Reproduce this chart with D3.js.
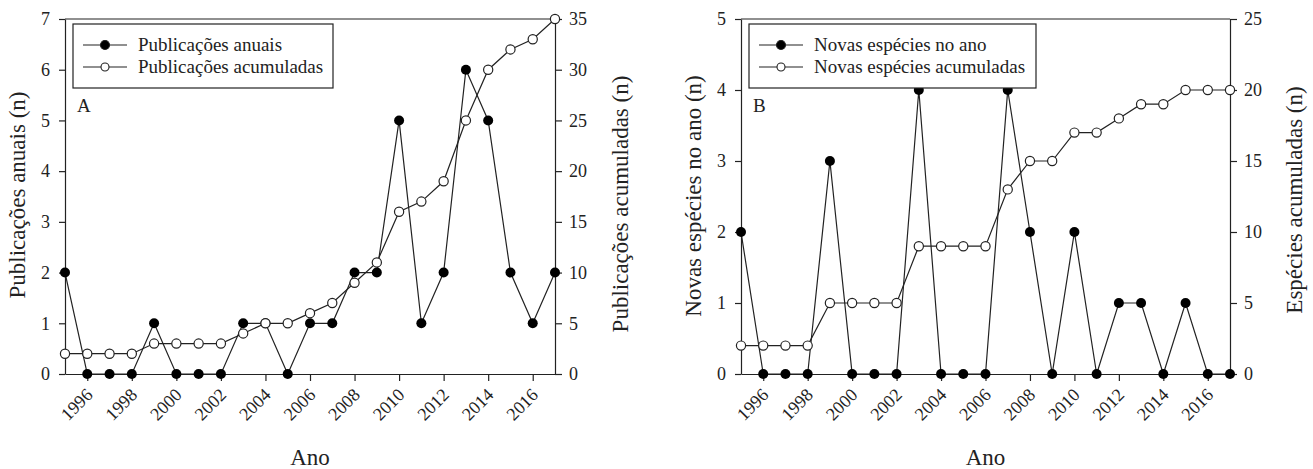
<!DOCTYPE html>
<html>
<head>
<meta charset="utf-8">
<script src="https://cdn.jsdelivr.net/npm/d3@7"></script>
<style>
  body { margin: 0; background: #fff; }
  svg, svg text { font-family: "Liberation Serif", "DejaVu Serif", serif !important; }
  .axis path, .axis line { stroke: #222; stroke-width: 1.2; }
  .axis text { font-size: 18px; fill: #222; }
</style>
</head>
<body>
<svg width="1313" height="469"></svg>
<script>
// data
let years = d3.range(1995, 2018);
let xTicks = d3.range(1996, 2018, 2);

let pubAnuais     = [2,0,0,0,1,0,0,0,1,1,0,1,1,2,2,5,1,2,6,5,2,1,2];
let pubAcumuladas = [2,2,2,2,3,3,3,3,4,5,5,6,7,9,11,16,17,19,25,30,32,33,35];

let espAno        = [2,0,0,0,3,0,0,0,4,0,0,0,4,2,0,2,0,1,1,0,1,0,0];
let espAcumuladas = [2,2,2,2,5,5,5,5,9,9,9,9,13,15,15,17,17,18,19,19,20,20,20];

let svg = d3.select("svg");

let panels = [
  { x0: 65, x1: 555, letter: "A",
    left: pubAnuais, right: pubAcumuladas, leftMax: 7, rightMax: 35,
    leftTitle: "Publicações anuais (n)", rightTitle: "Publicações acumuladas (n)",
    legend: ["Publicações anuais", "Publicações acumuladas"], legendW: 260,
    leftTitleX: 17, leftTitleY: 195, rightTitleX: 620, rightTitleY: 204 },
  { x0: 741, x1: 1230, letter: "B",
    left: espAno, right: espAcumuladas, leftMax: 5, rightMax: 25,
    leftTitle: "Novas espécies no ano (n)", rightTitle: "Espécies acumuladas (n)",
    legend: ["Novas espécies no ano", "Novas espécies acumuladas"], legendW: 287,
    leftTitleX: 693, leftTitleY: 196, rightTitleX: 1294, rightTitleY: 200 }
];

let plotTop = 19, plotBottom = 374;

panels.forEach(function(p) {
  let x = d3.scaleLinear().domain([1995, 2017]).range([p.x0, p.x1]);
  let yL = d3.scaleLinear().domain([0, p.leftMax]).range([plotBottom, plotTop]);
  let yR = d3.scaleLinear().domain([0, p.rightMax]).range([plotBottom, plotTop]);

  let g = svg.append("g");

  // top frame line
  g.append("line")
    .attr("x1", p.x0).attr("x2", p.x1)
    .attr("y1", plotTop).attr("y2", plotTop)
    .attr("stroke", "#222").attr("stroke-width", 1.2);

  // axes
  g.append("g").attr("class", "axis")
    .attr("transform", "translate(" + p.x0 + ",0)")
    .call(d3.axisLeft(yL).ticks(p.leftMax).tickSize(6).tickPadding(9).tickSizeOuter(0));

  g.append("g").attr("class", "axis")
    .attr("transform", "translate(" + p.x1 + ",0)")
    .call(d3.axisRight(yR).tickValues(d3.range(0, p.rightMax + 1, 5)).tickSize(7).tickPadding(7).tickSizeOuter(0));

  let xa = g.append("g").attr("class", "axis")
    .attr("transform", "translate(0," + plotBottom + ")")
    .call(d3.axisBottom(x).tickValues(xTicks).tickFormat(d3.format("d")).tickSize(7).tickSizeOuter(0));
  xa.selectAll("text")
    .attr("text-anchor", "end")
    .attr("dy", null)
    .attr("y", 0)
    .attr("transform", "translate(6,22) rotate(-45)");

  // lines
  let pts = function(arr, sc) { return years.map(function(yr, i) { return [x(yr), sc(arr[i])]; }); };
  let line = d3.line();

  g.append("path").datum(pts(p.left, yL))
    .attr("fill", "none").attr("stroke", "#222").attr("stroke-width", 1.2)
    .attr("d", line);
  g.append("path").datum(pts(p.right, yR))
    .attr("fill", "none").attr("stroke", "#222").attr("stroke-width", 1.2)
    .attr("d", line);

  g.selectAll(".fill").data(pts(p.left, yL)).enter().append("circle")
    .attr("cx", function(d) { return d[0]; })
    .attr("cy", function(d) { return d[1]; })
    .attr("r", 5).attr("fill", "#000");

  g.selectAll(".open").data(pts(p.right, yR)).enter().append("circle")
    .attr("cx", function(d) { return d[0]; })
    .attr("cy", function(d) { return d[1]; })
    .attr("r", 4.6).attr("fill", "#fff").attr("stroke", "#222").attr("stroke-width", 1.2);

  // legend
  let lx = p.x0 + 8, ly = 24;
  let lg = g.append("g");
  lg.append("rect")
    .attr("x", lx).attr("y", ly).attr("width", p.legendW).attr("height", 64)
    .attr("fill", "#fff").attr("stroke", "#222").attr("stroke-width", 1.2);
  p.legend.forEach(function(t, i) {
    let yy = ly + 21 + i * 22;
    lg.append("line").attr("x1", lx + 10).attr("x2", lx + 54).attr("y1", yy).attr("y2", yy)
      .attr("stroke", "#222").attr("stroke-width", 1.2);
    lg.append("circle").attr("cx", lx + 32).attr("cy", yy).attr("r", i == 0 ? 4.5 : 4)
      .attr("fill", i == 0 ? "#000" : "#fff").attr("stroke", "#222").attr("stroke-width", 1.1);
    lg.append("text").attr("x", lx + 65).attr("y", yy + 6)
      .style("font-size", "19px").attr("fill", "#222").text(t);
  });

  // panel letter
  g.append("text").attr("x", p.x0 + 12).attr("y", 112)
    .style("font-size", "19px").attr("fill", "#222").text(p.letter);

  // axis titles
  g.append("text")
    .attr("transform", "translate(" + p.leftTitleX + "," + p.leftTitleY + ") rotate(-90)")
    .attr("text-anchor", "middle").attr("dy", "0.35em")
    .style("font-size", "23px").attr("fill", "#222").text(p.leftTitle);
  g.append("text")
    .attr("transform", "translate(" + p.rightTitleX + "," + p.rightTitleY + ") rotate(-90)")
    .attr("text-anchor", "middle").attr("dy", "0.35em")
    .style("font-size", "23px").attr("fill", "#222").text(p.rightTitle);
  g.append("text")
    .attr("x", (p.x0 + p.x1) / 2).attr("y", 465)
    .attr("text-anchor", "middle")
    .style("font-size", "23px").attr("fill", "#222").text("Ano");
});
</script>
</body>
</html>
